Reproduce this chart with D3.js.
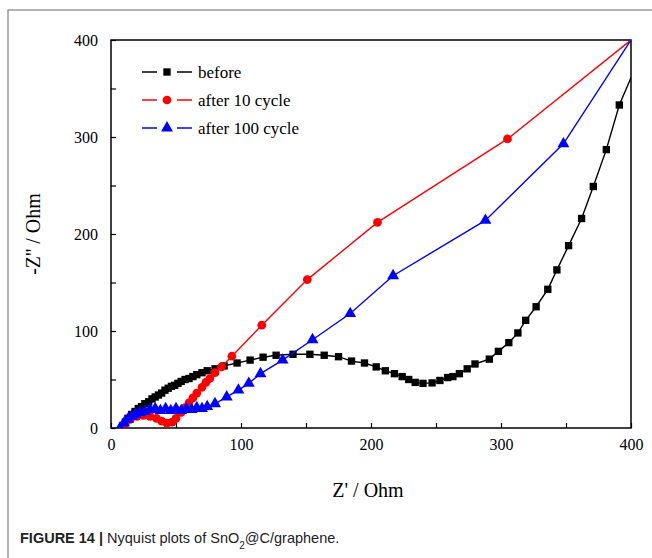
<!DOCTYPE html>
<html>
<head>
<meta charset="utf-8">
<title>Nyquist plots</title>
<script src="https://d3js.org/d3.v7.min.js"></script>
<style>
  body {margin: 0; background: #fff;}
  .serif {font-family: "Liberation Serif", "Times New Roman", serif; fill: #000;}
</style>
</head>
<body>
<div id="chart"></div>
<script>
// series names and tick labels
var seriesNames = ["before", "after 10 cycle", "after 100 cycle"];
var seriesColors = ["#000000", "#ff0000", "#0000ff"];
var xTicks = [0, 100, 200, 300, 400];
var yTicks = [0, 100, 200, 300, 400];

// [Z', -Z'']
var before = [[9,2],[11,6],[13,10],[16,14],[18.5,17],[21,20],[23.5,22],[26,25],[29,27],[31.5,30],
  [34,32],[36.5,34],[39,36],[41.5,39],[44,41],[46.5,43],[49,44],[51.5,46],[54,48],[57,50],
  [60,51],[63,53],[66,55],[70,57],[74,59],[80,61],[87,64],[97,67],[107,70],[117,73],
  [127,75],[140,76],[153,76],[164,75],[175,73.5],[185,69],[195,67],[204,63],[211,59],[218,56],
  [224,53],[229,50],[234,47],[240,46],[247,46.5],[253,49],[259,52],[263,53],[268,56],[274,61],
  [280,66],[291,71],[298,79],[306,88],[313,98],[319,111],[327,125],[336,143],[343,163],[352,188],
  [362,216],[371,249],[381,287],[391,333],[400,361]];
var after10 = [[8,0],[11,5],[15,9],[20,12],[25,13],[30,12],[35,10],[39,7],[43,5],[47,6],
  [50,10],[54,16],[57,21],[60,26],[63,31],[66,36],[70,42],[73,47],[76,51],[80,57],
  [85,63],[93,74],[116,106],[151,153],[205,212],[305,298],[400,400]];
var after100 = [[7,0],[10,5],[13,9],[16,12],[19,14],[22,16],[26,17],[30,19],[34,20],[38,18],
  [42,20],[46,18],[50,20],[54,18],[58,20],[62,19],[66,21],[70,20],[74,22],[80,25],
  [89,32],[98,39],[106,46],[115,56],[132,70],[155,91],[184,118],[217,157],[288,214],[348,293],
  [400,400]];

var series = [
  {name: seriesNames[0], color: seriesColors[0], values: before, symbol: d3.symbolSquare, size: 54},
  {name: seriesNames[1], color: seriesColors[1], values: after10, symbol: d3.symbolCircle, size: 60},
  {name: seriesNames[2], color: seriesColors[2], values: after100, symbol: d3.symbolTriangle, size: 62}
];

var margin = {top: 40, left: 111},
    width = 520,
    height = 388;

var svg = d3.select("#chart")
  .append("svg")
    .attr("width", 652)
    .attr("height", 558);

// card border (top and left edges visible)
svg.append("path")
  .attr("d", "M8,558 L8,10 L652,10")
  .attr("fill", "none")
  .attr("stroke", "#9a9a9a")
  .attr("stroke-width", 1.5);

var g = svg.append("g")
  .attr("transform", "translate(" + margin.left + "," + margin.top + ")");

var x = d3.scaleLinear().domain([0, 400]).range([0, width]);
var y = d3.scaleLinear().domain([0, 400]).range([height, 0]);

g.append("clipPath").attr("id", "plotClip")
  .append("rect").attr("width", width).attr("height", height);

// axes, ticks pointing inward every 50
var xAxis = g.append("g")
  .attr("transform", "translate(0," + height + ")")
  .call(d3.axisBottom(x)
    .tickValues(d3.range(0, 401, 50))
    .tickSizeInner(-5).tickSizeOuter(0)
    .tickPadding(11)
    .tickFormat(function(d) { return xTicks.indexOf(d) >= 0 ? d : ""; }));
var yAxis = g.append("g")
  .call(d3.axisLeft(y)
    .tickValues(d3.range(0, 401, 50))
    .tickSizeInner(-5).tickSizeOuter(0)
    .tickPadding(13)
    .tickFormat(function(d) { return yTicks.indexOf(d) >= 0 ? d : ""; }));
[xAxis, yAxis].forEach(function(a) {
  a.select(".domain").remove();
  a.selectAll(".tick line").attr("stroke", "#000").attr("stroke-width", 1.2);
  a.selectAll(".tick text")
    .attr("class", "serif")
    .style("font-size", "16px")
    .attr("fill", "#000");
});

// plot frame
g.append("rect")
  .attr("width", width)
  .attr("height", height)
  .attr("fill", "none")
  .attr("stroke", "#000")
  .attr("stroke-width", 1.5);

var plot = g.append("g").attr("clip-path", "url(#plotClip)");

series.forEach(function(s) {
  plot.append("path")
    .datum(s.values)
    .attr("fill", "none")
    .attr("stroke", s.color)
    .attr("stroke-width", 1.4)
    .attr("d", d3.line()
      .x(function(d) { return x(d[0]); })
      .y(function(d) { return y(d[1]); }));
  // last point only ends the line at the frame, no marker
  plot.append("g")
    .selectAll("path")
    .data(s.values.slice(0, -1))
    .enter()
    .append("path")
      .attr("transform", function(d) { return "translate(" + x(d[0]) + "," + y(d[1]) + ")"; })
      .attr("d", d3.symbol().type(s.symbol).size(s.size))
      .attr("fill", s.color);
});

// legend
var legend = g.append("g").attr("transform", "translate(31,32)");
series.forEach(function(s, i) {
  var row = legend.append("g").attr("transform", "translate(0," + (i * 28) + ")");
  row.append("line")
    .attr("x1", 0).attr("x2", 50)
    .attr("stroke", s.color)
    .attr("stroke-width", 1.5);
  row.append("rect")
    .attr("x", 15).attr("y", -3).attr("width", 20).attr("height", 6)
    .attr("fill", "#fff");
  row.append("path")
    .attr("transform", "translate(25,0)")
    .attr("d", d3.symbol().type(s.symbol).size(s.size))
    .attr("fill", s.color);
  row.append("text")
    .attr("class", "serif")
    .attr("x", 56)
    .attr("dy", "0.35em")
    .style("font-size", "17px")
    .text(s.name);
});

// axis titles
svg.append("text")
  .attr("class", "serif")
  .attr("x", 368)
  .attr("y", 497)
  .attr("text-anchor", "middle")
  .style("font-size", "20px")
  .text("Z' / Ohm");
svg.append("text")
  .attr("class", "serif")
  .attr("transform", "translate(40,234) rotate(-90)")
  .attr("text-anchor", "middle")
  .style("font-size", "20px")
  .text("-Z'' / Ohm");

// caption
var cap = svg.append("text")
  .attr("x", 20)
  .attr("y", 543)
  .style("font-family", "'Liberation Sans', Arial, sans-serif")
  .style("font-size", "14.5px")
  .attr("fill", "#222");
cap.append("tspan").style("font-weight", "bold").text("FIGURE 14 |");
cap.append("tspan").text(" Nyquist plots of SnO");
cap.append("tspan").attr("baseline-shift", "sub").style("font-size", "10px").text("2");
cap.append("tspan").text("@C/graphene.");
</script>
</body>
</html>
